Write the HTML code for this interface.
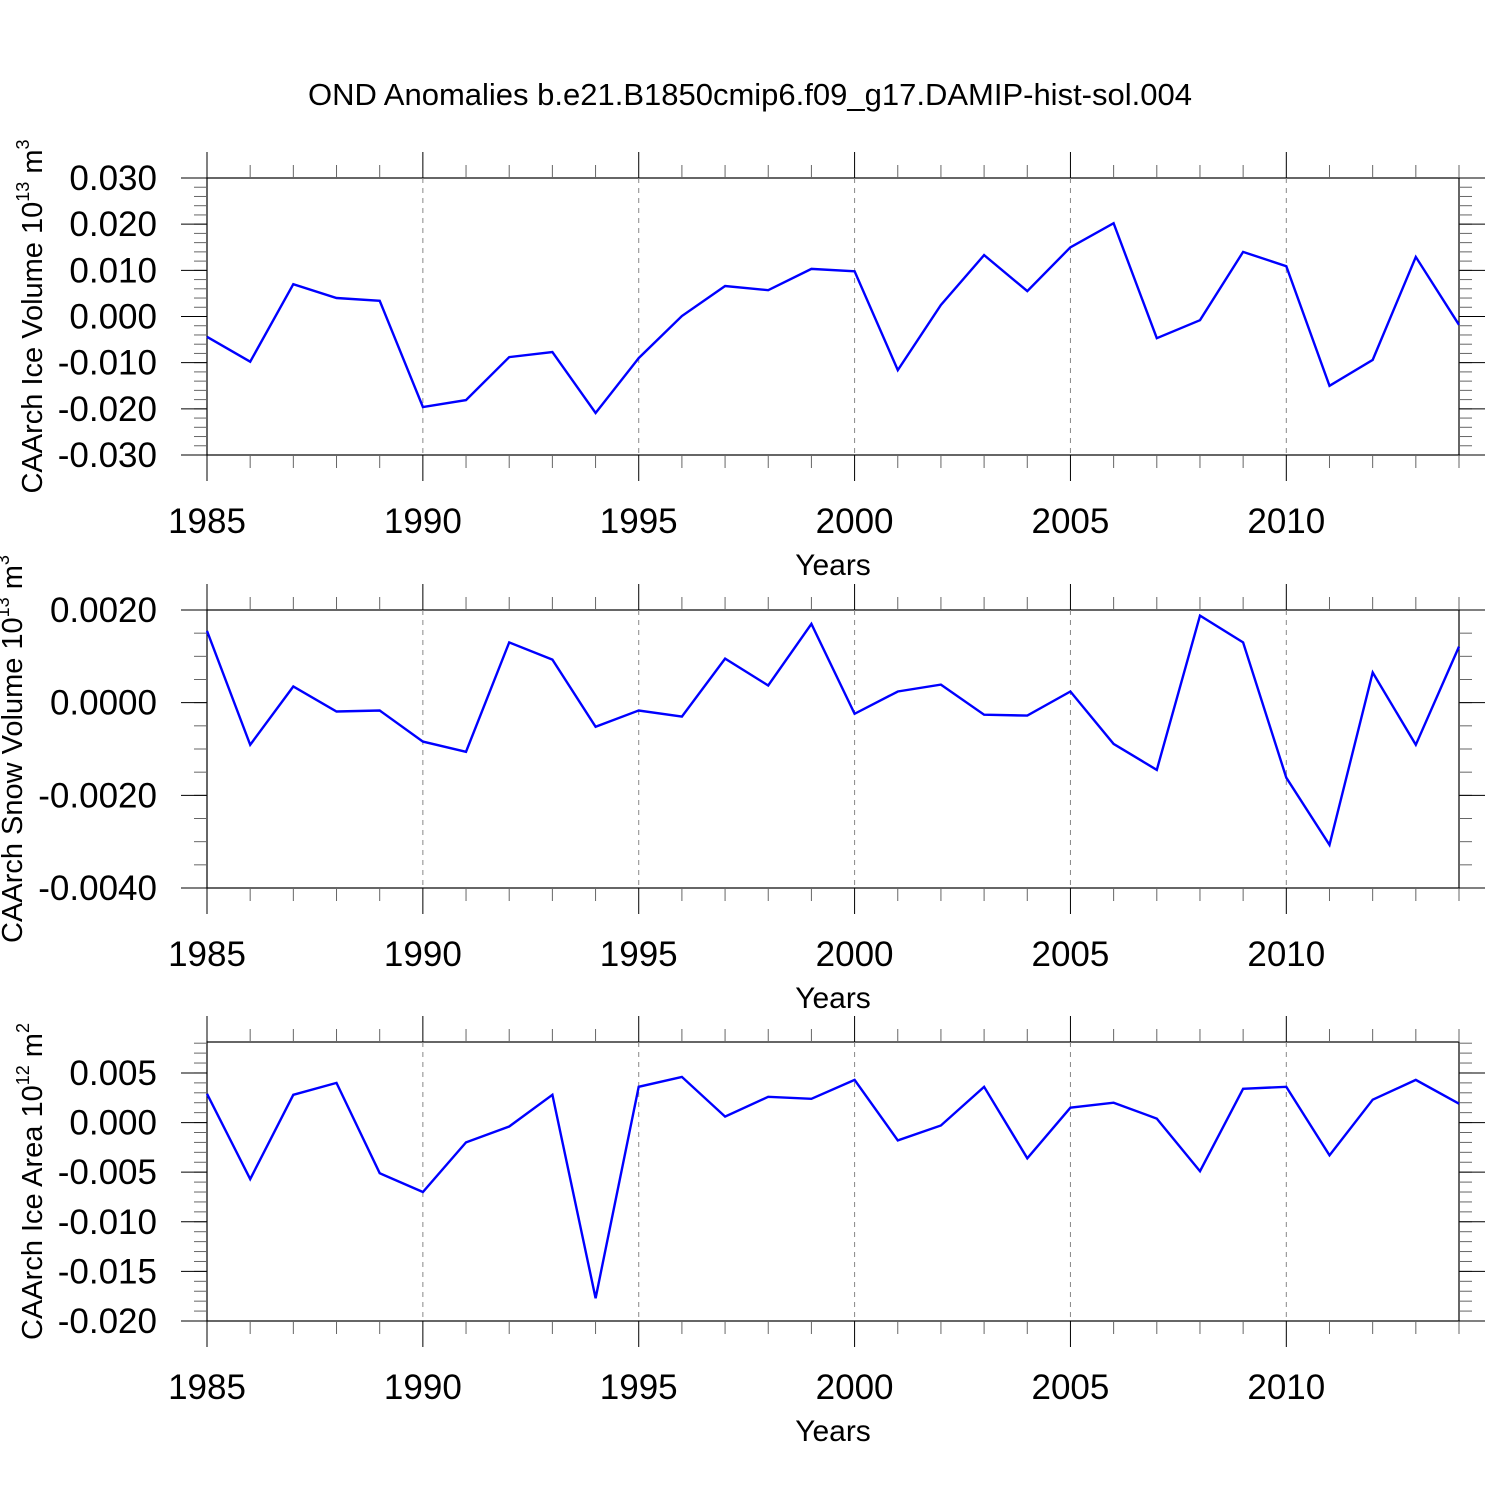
<!DOCTYPE html>
<html><head><meta charset="utf-8"><style>
body{margin:0;background:#fff;}
svg text{font-family:"Liberation Sans",sans-serif;fill:#000;}
</style></head><body>
<svg id="chart" width="1500" height="1500" xmlns="http://www.w3.org/2000/svg">
<rect width="1500" height="1500" fill="#fff"/>
<text x="750" y="105" text-anchor="middle" font-size="31">OND Anomalies b.e21.B1850cmip6.f09_g17.DAMIP-hist-sol.004</text>
</svg>
<script>
const years = [1985,1986,1987,1988,1989,1990,1991,1992,1993,1994,1995,1996,1997,1998,1999,2000,2001,2002,2003,2004,2005,2006,2007,2008,2009,2010,2011,2012,2013,2014];
const iceVolume = [-0.0044,-0.0098,0.0070,0.0040,0.0034,-0.0196,-0.0181,-0.0088,-0.0077,-0.0209,-0.0090,0.0001,0.0066,0.0057,0.0103,0.0098,-0.0116,0.0025,0.0133,0.0055,0.0150,0.0202,-0.0047,-0.0008,0.0140,0.0109,-0.0150,-0.0094,0.0129,-0.0018];
const snowVolume = [0.00155,-0.00091,0.00035,-0.00019,-0.00017,-0.00084,-0.00106,0.0013,0.00093,-0.00052,-0.00017,-0.0003,0.00095,0.00037,0.0017,-0.00024,0.00024,0.00039,-0.00026,-0.00028,0.00024,-0.00089,-0.00145,0.00188,0.0013,-0.00162,-0.00307,0.00065,-0.00091,0.00121];
const iceArea = [0.0029,-0.0057,0.0028,0.0040,-0.0051,-0.0070,-0.0020,-0.0004,0.0028,-0.0177,0.0036,0.0046,0.0006,0.0026,0.0024,0.0043,-0.0018,-0.0003,0.0036,-0.0036,0.0015,0.0020,0.0004,-0.0049,0.0034,0.0036,-0.0033,0.0023,0.0043,0.0019];
const xTicks = [1985,1990,1995,2000,2005,2010];
const yTicks1 = [0.03,0.02,0.01,0,-0.01,-0.02,-0.03];
const yLabels1 = ["0.030","0.020","0.010","0.000","-0.010","-0.020","-0.030"];
const yTicks2 = [0.002,0,-0.002,-0.004];
const yLabels2 = ["0.0020","0.0000","-0.0020","-0.0040"];
const yTicks3 = [0.005,0,-0.005,-0.01,-0.015,-0.02];
const yLabels3 = ["0.005","0.000","-0.005","-0.010","-0.015","-0.020"];

const svg = document.getElementById('chart');
const NS = 'http://www.w3.org/2000/svg';
function mk(tag, attrs){const e=document.createElementNS(NS,tag);for(const k in attrs)e.setAttribute(k,attrs[k]);svg.appendChild(e);return e;}
const X0=207, X1=1459;
function xs(v){return X0+(v-1985)/(2014-1985)*(X1-X0);}

function panel(p){
  const ys=v=>p.top+(p.ymax-v)/(p.ymax-p.ymin)*(p.bot-p.top);
  const fr=mk('rect',{x:X0,y:p.top,width:X1-X0,height:p.bot-p.top,fill:'none',stroke:'#000','stroke-width':1.2});
  
  
  for(let yr=1985; yr<=2014; yr++){
    const x=xs(yr), major=(yr%5===0), L=major?26:13, c=major?'#000':'#666';
    mk('line',{x1:x,y1:p.top,x2:x,y2:p.top-L,stroke:c,'stroke-width':1});
    mk('line',{x1:x,y1:p.bot,x2:x,y2:p.bot+L,stroke:c,'stroke-width':1});
    if(major && yr!==1985){
      const g=mk('line',{x1:x,y1:p.top,x2:x,y2:p.bot,stroke:'#888','stroke-width':1,'stroke-dasharray':'5,5'});
      
      
    }
  }
  xTicks.forEach(yr=>{
    const t=mk('text',{x:xs(yr),y:p.bot+78,'text-anchor':'middle','font-size':35});
    t.textContent=yr;
    
    
  });
  const xt=mk('text',{x:833,y:p.bot+120,'text-anchor':'middle','font-size':30});
  xt.textContent='Years';
  
  
  const n=Math.round((p.ymax-p.ymin)/p.minor);
  for(let i=0;i<=n+20;i++){
    const v=p.ymin+i*p.minor; if(v>p.ymax+1e-9) break;
    const y=ys(v);
    mk('line',{x1:X0,y1:y,x2:X0-13,y2:y,stroke:'#666','stroke-width':1});
    mk('line',{x1:X1,y1:y,x2:X1+13,y2:y,stroke:'#666','stroke-width':1});
  }
  p.ticks.forEach((v,i)=>{
    const y=ys(v);
    mk('line',{x1:X0,y1:y,x2:X0-26,y2:y,stroke:'#000','stroke-width':1});
    mk('line',{x1:X1,y1:y,x2:X1+26,y2:y,stroke:'#000','stroke-width':1});
    const t=mk('text',{x:157,y:y+12,'text-anchor':'end','font-size':35});
    t.textContent=p.labels[i];
    
    
  });
  const cy=(p.top+p.bot)/2;
  const yt=mk('text',{x:0,y:0,'text-anchor':'middle','font-size':29,transform:`translate(${p.tx},${cy}) rotate(-90)`});
  yt.innerHTML=p.title+' 10<tspan font-size="18" dy="-13">'+p.exp+'</tspan><tspan dy="13"> m</tspan><tspan font-size="18" dy="-13">'+p.unitexp+'</tspan>';
  
  
  const pts=years.map((yr,i)=>xs(yr).toFixed(1)+','+ys(p.data[i]).toFixed(1)).join(' ');
  const pl=mk('polyline',{points:pts,fill:'none',stroke:'#0000ff','stroke-width':2.4,'stroke-linejoin':'miter'});
  
  
}
panel({name:'ice-volume',tx:42,top:178,bot:455,ymax:0.03,ymin:-0.03,minor:0.002,ticks:yTicks1,labels:yLabels1,data:iceVolume,title:'CAArch Ice Volume',exp:'13',unitexp:'3'});
panel({name:'snow-volume',tx:22,top:610,bot:888,ymax:0.002,ymin:-0.004,minor:0.0005,ticks:yTicks2,labels:yLabels2,data:snowVolume,title:'CAArch Snow Volume',exp:'13',unitexp:'3'});
panel({name:'ice-area',tx:42,top:1042,bot:1321,ymax:0.00812,ymin:-0.02,minor:0.001,ticks:yTicks3,labels:yLabels3,data:iceArea,title:'CAArch Ice Area',exp:'12',unitexp:'2'});
</script>
</body></html>
